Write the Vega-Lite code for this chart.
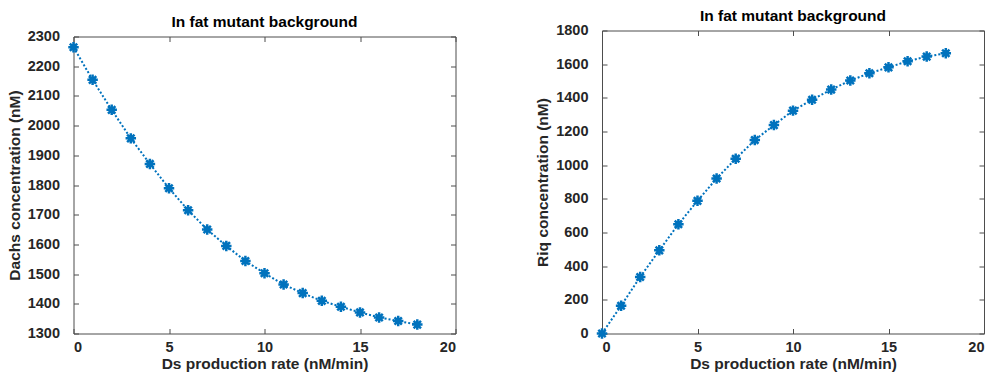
{
  "$schema": "https://vega.github.io/schema/vega-lite/v6.json",
  "padding": {"left": 6.5, "top": 5.5, "right": 0, "bottom": 0},
  "autosize": {"type": "pad"},
  "background": "white",
  "config": {
    "font": "Liberation Sans",
    "view": {"stroke": "#4d4d4d", "strokeWidth": 1},
    "axis": {"grid": false, "domain": false, "tickColor": "#4d4d4d", "tickSize": -5, "tickWidth": 1, "format": "d",
      "labelFont": "Liberation Sans", "labelFontSize": 14.5, "labelFontWeight": "bold", "labelColor": "#262626",
      "titleFont": "Liberation Sans", "titleFontSize": 15.5, "titleFontWeight": "bold", "titleColor": "#262626"},
    "axisX": {"labelPadding": 12, "titlePadding": 2},
    "axisY": {"labelPadding": 19, "titlePadding": 5},
    "axisTop": {"labelPadding": 0, "minExtent": 0, "maxExtent": 0},
    "axisRight": {"labelPadding": 0},
    "title": {"font": "Liberation Sans", "fontSize": 15.5, "fontWeight": "bold", "color": "#000000", "offset": -2}
  },
  "spacing": 78.5,
  "hconcat": [
    {
      "spacing": 0,
      "vconcat": [
        {"width": 382, "height": 7, "view": {"stroke": "transparent"}, "data": {"values": []}, "mark": "point"},
        {
          "title": "In fat mutant background",
          "width": 382,
          "height": 297,
          "data": {"values": [
            {"rate": 0, "conc": 2264}, {"rate": 1, "conc": 2154}, {"rate": 2, "conc": 2053}, {"rate": 3, "conc": 1957},
            {"rate": 4, "conc": 1871}, {"rate": 5, "conc": 1789}, {"rate": 6, "conc": 1715}, {"rate": 7, "conc": 1650},
            {"rate": 8, "conc": 1595}, {"rate": 9, "conc": 1544}, {"rate": 10, "conc": 1503}, {"rate": 11, "conc": 1465},
            {"rate": 12, "conc": 1436}, {"rate": 13, "conc": 1410}, {"rate": 14, "conc": 1390}, {"rate": 15, "conc": 1371},
            {"rate": 16, "conc": 1354}, {"rate": 17, "conc": 1342}, {"rate": 18, "conc": 1330}
          ]},
          "layer": [
            {
              "mark": {"type": "line", "color": "#0072BD", "strokeDash": [2, 2], "strokeWidth": 2},
              "encoding": {
                "x": {"field": "rate", "type": "quantitative", "scale": {"domain": [0, 20], "nice": false},
                  "axis": {"title": "Ds production rate (nM/min)", "values": [0, 5, 10, 15, 20]}},
                "y": {"field": "conc", "type": "quantitative", "scale": {"domain": [1300, 2300], "nice": false, "zero": false},
                  "axis": {"title": "Dachs concentration (nM)", "values": [1300, 1400, 1500, 1600, 1700, 1800, 1900, 2000, 2100, 2200, 2300]}}
              }
            },
            {
              "mark": {"type": "point", "shape": "M-1,0L1,0M0,-1L0,1M-0.7,-0.7L0.7,0.7M-0.7,0.7L0.7,-0.7", "filled": false, "strokeWidth": 2.5, "size": 110, "color": "#0072BD", "opacity": 1},
              "encoding": {
                "x": {"field": "rate", "type": "quantitative", "scale": {"domain": [0, 20], "nice": false},
                  "axis": {"orient": "top", "labels": false, "title": null, "values": [0, 5, 10, 15, 20]}},
                "y": {"field": "conc", "type": "quantitative", "scale": {"domain": [1300, 2300], "nice": false, "zero": false},
                  "axis": {"orient": "right", "labels": false, "title": null, "values": [1300, 1400, 1500, 1600, 1700, 1800, 1900, 2000, 2100, 2200, 2300]}}
              }
            }
          ],
          "resolve": {"axis": {"x": "independent", "y": "independent"}}
        }
      ]
    },
    {
      "spacing": 0,
      "vconcat": [
        {"width": 382, "height": 1, "view": {"stroke": "transparent"}, "data": {"values": []}, "mark": "point"},
        {
          "title": "In fat mutant background",
          "width": 382,
          "height": 303,
          "data": {"values": [
            {"rate": 0, "conc": 0}, {"rate": 1, "conc": 165}, {"rate": 2, "conc": 336}, {"rate": 3, "conc": 494},
            {"rate": 4, "conc": 649}, {"rate": 5, "conc": 788}, {"rate": 6, "conc": 921}, {"rate": 7, "conc": 1038},
            {"rate": 8, "conc": 1149}, {"rate": 9, "conc": 1238}, {"rate": 10, "conc": 1324}, {"rate": 11, "conc": 1389},
            {"rate": 12, "conc": 1449}, {"rate": 13, "conc": 1503}, {"rate": 14, "conc": 1546}, {"rate": 15, "conc": 1581},
            {"rate": 16, "conc": 1617}, {"rate": 17, "conc": 1645}, {"rate": 18, "conc": 1665}
          ]},
          "layer": [
            {
              "mark": {"type": "line", "color": "#0072BD", "strokeDash": [2, 2], "strokeWidth": 2},
              "encoding": {
                "x": {"field": "rate", "type": "quantitative", "scale": {"domain": [0, 20], "nice": false},
                  "axis": {"title": "Ds production rate (nM/min)", "values": [0, 5, 10, 15, 20]}},
                "y": {"field": "conc", "type": "quantitative", "scale": {"domain": [0, 1800], "nice": false},
                  "axis": {"title": "Riq concentration (nM)", "values": [0, 200, 400, 600, 800, 1000, 1200, 1400, 1600, 1800]}}
              }
            },
            {
              "mark": {"type": "point", "shape": "M-1,0L1,0M0,-1L0,1M-0.7,-0.7L0.7,0.7M-0.7,0.7L0.7,-0.7", "filled": false, "strokeWidth": 2.5, "size": 110, "color": "#0072BD", "opacity": 1},
              "encoding": {
                "x": {"field": "rate", "type": "quantitative", "scale": {"domain": [0, 20], "nice": false},
                  "axis": {"orient": "top", "labels": false, "title": null, "values": [0, 5, 10, 15, 20]}},
                "y": {"field": "conc", "type": "quantitative", "scale": {"domain": [0, 1800], "nice": false},
                  "axis": {"orient": "right", "labels": false, "title": null, "values": [0, 200, 400, 600, 800, 1000, 1200, 1400, 1600, 1800]}}
              }
            }
          ],
          "resolve": {"axis": {"x": "independent", "y": "independent"}}
        }
      ]
    }
  ]
}
